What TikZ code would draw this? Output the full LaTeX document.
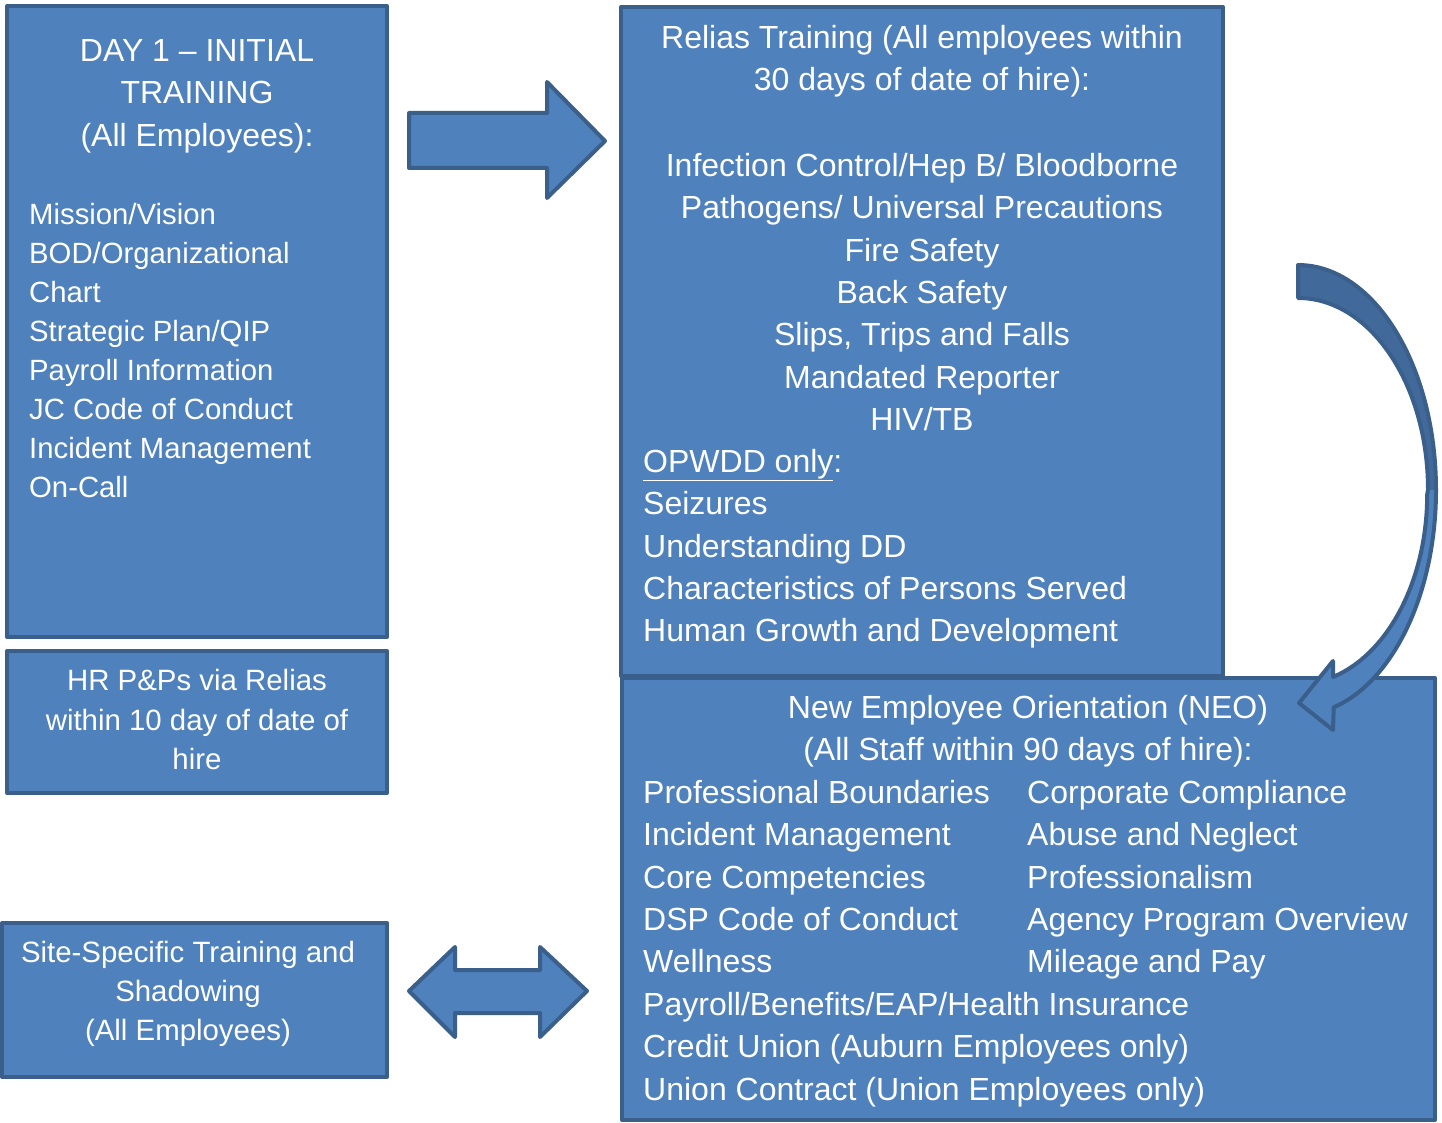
\documentclass[tikz,border=0pt]{standalone}
\usepackage{fontspec}
\setmainfont{Liberation Sans}
\definecolor{boxfill}{HTML}{4F81BD}
\definecolor{boxline}{HTML}{3A5F8B}
\definecolor{arrowdark}{HTML}{41699A}
\newcommand\tstrut{\rule{0pt}{30pt}}
\begin{document}
\begin{tikzpicture}[x=1pt,y=-1pt,
  panel/.style={draw=boxline,fill=boxfill,line width=4pt,inner sep=0pt,line join=round},
  shapearrow/.style={draw=boxline,fill=boxfill,line width=4pt,line join=round},
  txt/.style={text=white,inner sep=0pt,font=\fontsize{32}{42.4}\selectfont},
  txtA/.style={text=white,inner sep=0pt,font=\fontsize{29.3}{38.9}\selectfont},
  txtB/.style={text=white,inner sep=0pt,font=\fontsize{29.4}{39.5}\selectfont},
  txtC/.style={text=white,inner sep=0pt,font=\fontsize{29.4}{39}\selectfont}]
\useasboundingbox (0,0) rectangle (1442,1123);

% boxes
\node[panel,minimum width=380pt,minimum height=631pt] (day1) at (197,321.5) {};
\node[panel,minimum width=380pt,minimum height=142pt] (hr) at (197,722) {};
\node[panel,minimum width=385pt,minimum height=154pt] (site) at (194.5,1000) {};
\node[panel,minimum width=602pt,minimum height=669pt] (relias) at (922,341.5) {};
\node[panel,minimum width=813pt,minimum height=442pt] (neo) at (1028.5,899) {};

% texts
\node[txt,align=center,font=\fontsize{32}{42.5}\selectfont,anchor=north] (day1title) at (197,31)
  {\tstrut DAY 1 – INITIAL\\TRAINING\\(All Employees):};
\node[txtA,align=left,anchor=north west] (day1list) at (29,194.5)
  {\tstrut Mission/Vision\\BOD/Organizational\\Chart\\Strategic Plan/QIP\\Payroll Information\\JC Code of Conduct\\Incident Management\\On-Call};
\node[txtB,align=center,anchor=north] (hrtext) at (197,660.5)
  {\tstrut HR P\&Ps via Relias\\within 10 day of date of\\hire};
\node[txtC,align=center,anchor=north] (sitetext) at (188,932.5)
  {\tstrut Site-Specific Training and\\Shadowing\\(All Employees)};
\node[txt,align=center,anchor=north] (reliastitle) at (922,18)
  {\tstrut Relias Training (All employees within\\30 days of date of hire):};
\node[txt,align=center,anchor=north] (reliaslist) at (922,146)
  {\tstrut Infection Control/Hep B/ Bloodborne\\Pathogens/ Universal Precautions\\Fire Safety\\Back Safety\\Slips, Trips and Falls\\Mandated Reporter\\HIV/TB};
\node[txt,align=left,anchor=north west] (opwdd) at (643,442)
  {\tstrut\underline{OPWDD only}:\\Seizures\\Understanding DD\\Characteristics of Persons Served\\Human Growth and Development};
\node[txt,align=center,anchor=north] (neotitle) at (1028,688)
  {\tstrut New Employee Orientation (NEO)\\(All Staff within 90 days of hire):};
\node[txt,align=left,anchor=north west] (neocol1) at (643,773)
  {\tstrut Professional Boundaries\\Incident Management\\Core Competencies\\DSP Code of Conduct\\Wellness\\Payroll/Benefits/EAP/Health Insurance\\Credit Union (Auburn Employees only)\\Union Contract (Union Employees only)};
\node[txt,align=left,anchor=north west] (neocol2) at (1027,773)
  {\tstrut Corporate Compliance\\Abuse and Neglect\\Professionalism\\Agency Program Overview\\Mileage and Pay};

% right arrow
\draw[shapearrow] (409,113) -- (547,113) -- (547,82) -- (605,141) -- (547,198)
  -- (547,168) -- (409,168) -- cycle;

% double arrow
\draw[shapearrow] (409,991) -- (455,947) -- (455,970) -- (540,970) -- (540,947)
  -- (587,991) -- (540,1037) -- (540,1013) -- (455,1013) -- (455,1037) -- cycle;

% curved arrow: back (dark) part fill
\fill[arrowdark] (1298,265) arc[start angle=-90,end angle=0,x radius=138,y radius=225]
  -- (1428,490) arc[start angle=0,end angle=-90,x radius=130,y radius=192] -- cycle;
% curved arrow: front part fill
\fill[boxfill] (1436,490) arc[start angle=0,end angle=75,x radius=138,y radius=225]
  -- (1333,730) -- (1299,703) -- (1333,661) -- (1333,677)
  arc[start angle=74,end angle=0,x radius=130,y radius=190] -- (1428,490) -- cycle;
% curved arrow: outline
\draw[boxline,line width=4pt,line join=round]
  (1298,265) arc[start angle=-90,end angle=75,x radius=138,y radius=225]
  -- (1333,730) -- (1299,703) -- (1333,661) -- (1333,677)
  arc[start angle=74,end angle=0,x radius=130,y radius=190]
  -- (1428,490) arc[start angle=0,end angle=-90,x radius=130,y radius=192] -- cycle;
\end{tikzpicture}
\end{document}
